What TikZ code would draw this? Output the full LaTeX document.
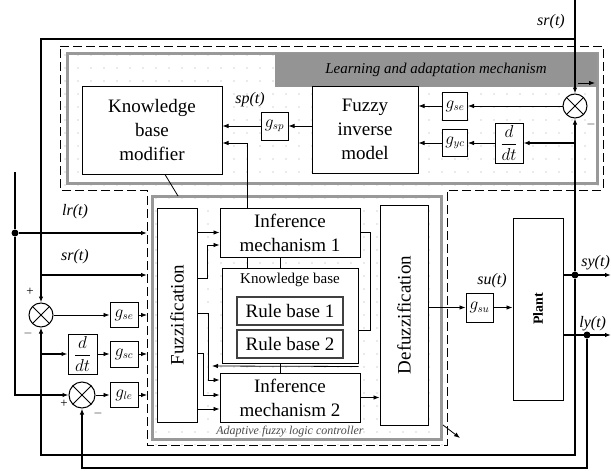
\documentclass[tikz,border=0pt]{standalone}
\usepackage{fontspec}
\setmainfont{Liberation Serif}
\usetikzlibrary{arrows.meta,patterns.meta}

\tikzdeclarepattern{
  name=sparsedots,
  type=uncolored,
  bounding box={(-5pt,-5pt) and (5pt,5pt)},
  tile size={(13pt,13pt)},
  code={\fill (0pt,0pt) circle (0.7pt);}
}

\begin{document}
\begin{tikzpicture}[x=1pt,y=-1pt,line width=.8pt,>={Latex[length=6pt,width=4.5pt]},
  blk/.style={draw,fill=white,line width=1pt,align=center,inner sep=0pt,font=\fontsize{19}{24}\selectfont},
  gain/.style={draw,fill=white,line width=1pt,inner sep=0pt,minimum width=27pt,minimum height=26pt,font=\fontsize{16}{18}\selectfont},
  rulebox/.style={draw=black!75,fill=white,line width=2pt,inner sep=0pt,minimum width=106pt,minimum height=28pt,font=\fontsize{19}{22}\selectfont},
  sumnode/.style={circle,draw,fill=white,line width=1pt,minimum size=24pt,inner sep=0pt,
    path picture={\draw (path picture bounding box.north west) -- (path picture bounding box.south east)
      (path picture bounding box.south west) -- (path picture bounding box.north east);}},
  sig/.style={font=\fontsize{16}{18}\selectfont\itshape,inner sep=1pt},
  sgn/.style={font=\fontsize{13}{14}\selectfont,inner sep=0pt},
  wire/.style={line width=1.2pt},
  jdot/.style={circle,fill,inner sep=0pt,minimum size=7pt}]
\path[use as bounding box] (0,0) rectangle (611,471);

% adaptive fuzzy controller region
\path[pattern=sparsedots,pattern color=black!35] (60,46) -- (603,46) -- (603,190) -- (447,190) -- (447,445) -- (147,445) -- (147,190) -- (60,190) -- cycle;
\draw[black!40,line width=3pt] (67,53) rectangle (597,183);
\draw[black!40,line width=3pt] (152,196) rectangle (441,439);
\draw[line width=1pt,dash pattern=on 9pt off 4pt] (60,46) -- (603,46) -- (603,190) -- (447,190) -- (447,445) -- (147,445) -- (147,190) -- (60,190) -- cycle;
\fill[black!42] (275,53) rectangle (597,87);
\node[font=\fontsize{15}{17}\selectfont\itshape] (lamtitle) at (436,70) {Learning and adaptation mechanism};
\node[font=\fontsize{12}{14}\selectfont\itshape,text=black!70] (afctitle) at (290,432) {Adaptive fuzzy logic controller};
\coordinate (cw) at (147,0);

% learning and adaptation mechanism
\node[blk,minimum width=140pt,minimum height=88pt] (kbm) at (152,130) {Knowledge\\base\\modifier};
\node[blk,minimum width=106pt,minimum height=87pt] (fim) at (365,129.5) {Fuzzy\\inverse\\model};
\node[gain,minimum height=28pt] (gsp) at (274.5,126) {$g_{sp}$};
\node[gain,minimum width=25pt,minimum height=28pt] (gseL) at (455,106) {$g_{se}$};
\node[gain,minimum width=25pt,minimum height=27pt] (gycL) at (455,143) {$g_{yc}$};
\node[gain,minimum width=28pt,minimum height=40pt] (dtL) at (509,143) {$\displaystyle\frac{d}{dt}$};
\node[sumnode] (sumL) at (575,106) {};
\node[sig] at (250,100) {sp(t)};

% fuzzy logic controller
\node[blk,minimum width=40pt,minimum height=214pt] (fuzz) at (177,315) {\rotatebox{90}{Fuzzification}};
\node[blk,minimum width=140pt,minimum height=49pt] (im1) at (290,232.5) {Inference\\mechanism 1};
\node[blk,minimum width=136pt,minimum height=95pt] (kb) at (290,315.5) {};
\node[font=\fontsize{15}{17}\selectfont] (kbtitle) at (290,280) {Knowledge base};
\node[rulebox] (rb1) at (290,311) {Rule base 1};
\node[rulebox] (rb2) at (290,344) {Rule base 2};
\node[blk,minimum width=140pt,minimum height=49pt] (im2) at (290,397.5) {Inference\\mechanism 2};
\node[blk,minimum width=48pt,minimum height=220pt] (defuzz) at (404,315) {\rotatebox{90}{Defuzzification}};

% plant side
\node[gain,minimum height=29pt] (gsu) at (479.5,307.5) {$g_{su}$};
\node[blk,minimum width=50pt,minimum height=182pt] (plant) at (538,309) {\rotatebox{90}{\fontsize{14}{16}\selectfont\bfseries Plant}};
\node[jdot] (jsy) at (575,275) {};
\node[jdot] (jly) at (587,335) {};
\coordinate (syout) at (611,275);
\coordinate (lyout) at (611,335);
\node[sig] at (492,281) {su(t)};
\node[sig,anchor=west] at (580,263) {sy(t)};
\node[sig,anchor=west] at (578,324) {ly(t)};

% left side
\node[sumnode] (sumA) at (41,315) {};
\node[gain,minimum width=28pt,minimum height=25pt] (gse) at (124,315) {$g_{se}$};
\node[gain,minimum width=29pt,minimum height=40pt] (dtA) at (82.5,354) {$\displaystyle\frac{d}{dt}$};
\node[gain,minimum width=28pt,minimum height=26pt] (gsc) at (124,354) {$g_{sc}$};
\node[sumnode,minimum size=26pt] (sumB) at (82,395) {};
\node[gain,minimum width=28pt,minimum height=25pt] (gle) at (124,395) {$g_{le}$};
\node[jdot] (jlr) at (15,233) {};
\coordinate (lrtop) at (15,172);
\coordinate (jsr) at (41,275);
\coordinate (srtop) at (575,0);
\coordinate (srj) at (575,39);
\coordinate (fbsy) at (575,455);
\coordinate (fbly) at (587,468);
\node[sig] at (75,212) {lr(t)};
\node[sig] at (75,257) {sr(t)};
\node[sig] at (551,22) {sr(t)};

% signal wires
\draw[wire,->] (srtop) -- (sumL.north);
\draw[wire,->] (srj) -| (sumA.north);
\draw[wire,->] (jsr) -- (cw |- jsr);
\draw[wire] (lrtop) -- (jlr);
\draw[wire,->] (jlr) -- (cw |- jlr);
\draw[wire,->] (jlr) |- (sumB.west);
\draw[wire,->] (plant.east |- jsy) -- (syout);
\draw[wire,->] (plant.east |- jly) -- (lyout);
\draw[wire,->] (jsy) -- (sumL.south);
\draw[wire,->] (jsy |- dtL) -- (dtL.east);
\draw[wire,->] (jsy) -- (fbsy) -| (sumA.south);
\draw[wire,->] (sumA.south |- dtA) -- (dtA.west);
\draw[wire,->] (jly) -- (fbly) -| (sumB.south);
\node[sgn] at (30,292) {+};
\node[sgn] at (28,333) {$-$};
\node[sgn] at (64,404) {+};
\node[sgn] at (98,413) {$-$};
\node[sgn] at (591,124) {$-$};

% gains into the controller
\draw[->] (sumA.east) -- (gse.west);
\draw[->] (gse.east) -- (cw |- gse);
\draw[->] (dtA.east) -- (gsc.west);
\draw[->] (gsc.east) -- (cw |- gsc);
\draw[->] (sumB.east) -- (gle.west);
\draw[->] (gle.east) -- (cw |- gle);

% learning mechanism wires
\draw[->] (sumL.west) -- (gseL.east);
\draw[->] (gseL.west) -- (fim.east |- gseL);
\draw[->] (dtL.west) -- (gycL.east);
\draw[->] (gycL.west) -- (fim.east |- gycL);
\draw[->] (fim.west |- gsp) -- (gsp.east);
\draw[->] (gsp.west) -- (kbm.east |- gsp);
\draw[->] (im1.north -| 247,0) |- (kbm.east |- 0,143);
\draw (kbm.south -| 165,0) -- (178,196);
\draw[->] (578,83) -- (595,83);

% inside the controller
\draw[->] (fuzz.east |- im1) -- (im1.west);
\draw[->] (fuzz.east |- 0,278) -- (207,278) |- (im1.west |- 0,245);
\draw (im1.east) -- (370,232.5) |- (kb.east |- 0,330);
\draw (im1.south -| 247,0) -- (kb.north -| 247,0);
\draw (im1.south -| 280,0) -- (kb.north -| 280,0);
\draw (kb.south -| 280,0) -- (im2.north -| 280,0);
\draw[->] (kb.south east) ++(0,3) -- (212,366);
\draw[->] (fuzz.east |- 0,313) -- (208,313) |- (im2.west |- 0,380);
\draw[->] (fuzz.east |- 0,353) -- (203,353) |- (im2.west |- 0,395);
\draw[->] (fuzz.east |- 0,409) -- (im2.west |- 0,409);
\draw[->] (im2.east) -- (defuzz.west |- im2);
\draw[->] (defuzz.east |- gsu) -- (gsu.west);
\draw[->] (gsu.east) -- (plant.west |- gsu);
\draw[->] (443,425) -- (460,438);
\end{tikzpicture}
\end{document}
